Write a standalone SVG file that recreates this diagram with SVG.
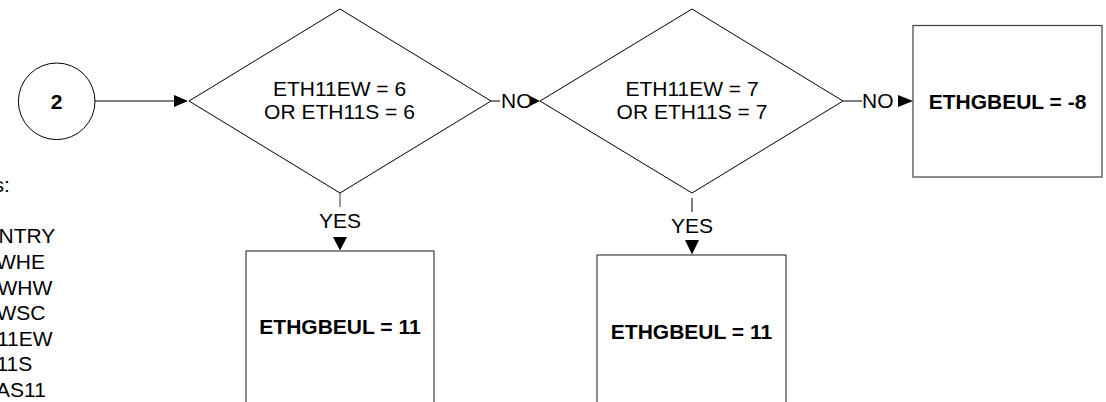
<svg xmlns="http://www.w3.org/2000/svg" width="1106" height="402" viewBox="0 0 1106 402">
<style>
.s{fill:#fff;stroke:#000;stroke-width:1}
.b{fill:#fff;stroke:#404040;stroke-width:1.2}
.t{font-family:"Liberation Sans",Arial,sans-serif;font-size:21px;fill:#000}
.d{font-family:"Liberation Sans",Arial,sans-serif;font-size:21px;fill:#000;text-anchor:middle}
.bt{font-family:"Liberation Sans",Arial,sans-serif;font-size:21px;font-weight:bold;fill:#000;text-anchor:middle}
.c{fill:none;stroke:#000;stroke-width:1}
.cg{fill:none;stroke:#555;stroke-width:1.2}
.ah{fill:#000;stroke:none}
</style>
<rect width="1106" height="402" fill="#fff"/>
<g id="legend">
<text class="t" x="-6.5" y="192">s:</text>
<text class="t" x="-1.5" y="243.3">NTRY</text>
<text class="t" x="-4" y="268.9">WHE</text>
<text class="t" x="-2.5" y="294.5">WHW</text>
<text class="t" x="-3.5" y="320.1">WSC</text>
<text class="t" x="-3" y="345.7">11EW</text>
<text class="t" x="-3.5" y="371.3">11S</text>
<text class="t" x="-4" y="396.9">AS11</text>
</g>
<g id="start">
<circle class="s" cx="56.7" cy="101.3" r="38.3"/>
<text class="bt" x="56.7" y="108.5">2</text>
</g>
<g id="decision1">
<polygon class="s" points="189,101 340,9 491,101 340,193"/>
<text class="d" x="339.5" y="95.5">ETH11EW = 6</text>
<text class="d" x="339.5" y="119">OR ETH11S = 6</text>
</g>
<g id="decision2">
<polygon class="s" points="540,101 692,9 843,101 692,193"/>
<text class="d" x="692" y="95.5">ETH11EW = 7</text>
<text class="d" x="692" y="119">OR ETH11S = 7</text>
</g>
<g id="box1">
<rect class="b" x="246" y="251" width="188" height="152"/>
<text class="bt" x="340" y="334">ETHGBEUL = 11</text>
</g>
<g id="box2">
<rect class="b" x="597" y="255" width="189" height="152"/>
<text class="bt" x="691.5" y="339">ETHGBEUL = 11</text>
</g>
<g id="box3">
<rect class="b" x="913" y="25.5" width="189" height="151.5"/>
<text class="bt" x="1007.5" y="108.5">ETHGBEUL = -8</text>
</g>
<g id="connectors">
<line class="c" x1="95" y1="101" x2="176" y2="101"/>
<polygon class="ah" points="174,95 188,101 174,107"/>
<line class="c" x1="491" y1="101" x2="500" y2="101"/>
<text class="t" x="501" y="107.5">NO</text>
<polygon class="ah" points="530,96 540,101 530,106"/>
<line class="c" x1="843" y1="101" x2="862" y2="101"/>
<text class="t" x="862" y="108">NO</text>
<polygon class="ah" points="898,95 913,101 898,107"/>
<line class="cg" x1="340" y1="193" x2="340" y2="207"/>
<text class="t" x="340" y="227.5" text-anchor="middle">YES</text>
<polygon class="ah" points="333,237 347,237 340,250.5"/>
<line class="c" x1="692" y1="198" x2="692" y2="212"/>
<text class="t" x="692" y="233.3" text-anchor="middle">YES</text>
<polygon class="ah" points="685,240 699,240 692,254.5"/>
</g>
</svg>
